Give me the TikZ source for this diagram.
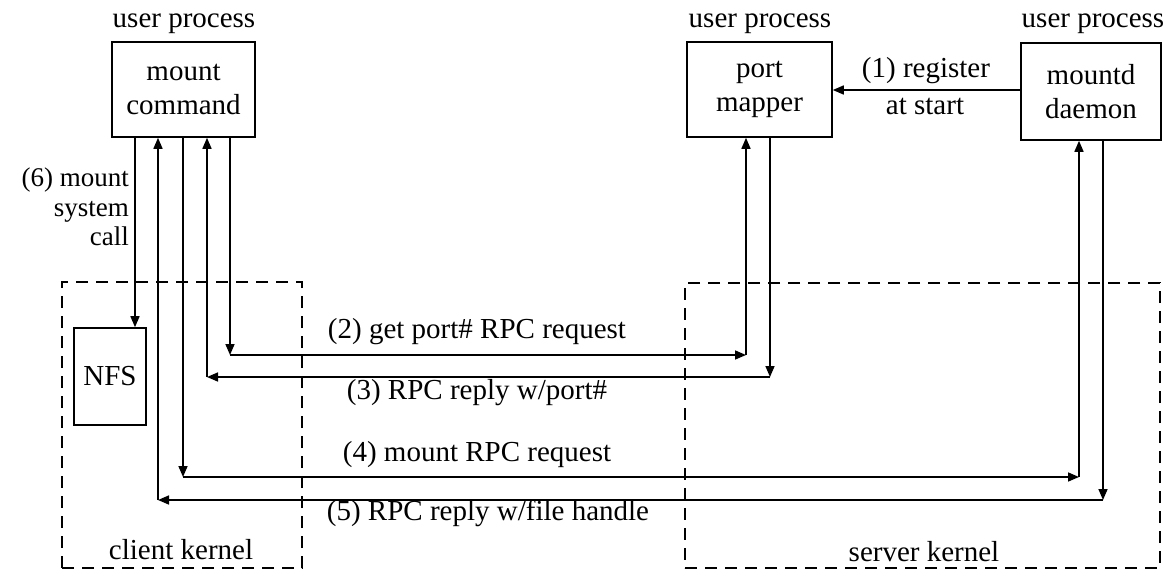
\documentclass[tikz,border=0pt]{standalone}
\usepackage{fontspec}
\setmainfont{Liberation Serif}
\usetikzlibrary{arrows.meta}
\begin{document}
\begin{tikzpicture}[x=1pt,y=-1pt,
  txt/.style={font=\fontsize{29}{34}\selectfont,inner sep=0pt},
  box/.style={txt,draw,line width=1.6pt,align=center},
  kern/.style={draw,line width=2.2pt,dash pattern=on 12pt off 8pt,inner sep=0pt},
  ln/.style={line width=1.6pt},
  arr/.style={ln,-{Triangle[length=11pt,width=9pt]}}]
\useasboundingbox (0,0) rectangle (1163,571);
% kernels
\node[kern,minimum width=240pt,minimum height=286pt] (ck) at (182,425) {};
\node[kern,minimum width=475pt,minimum height=285pt] (sk) at (922.5,425.5) {};
\node[txt] (ckl) at (181,550) {client kernel};
\node[txt] (skl) at (924,552) {server kernel};
% user boxes
\node[box,minimum width=143pt,minimum height=95pt] (mc) at (183.5,89.5) {mount\\command};
\node[box,minimum width=145pt,minimum height=95pt] (pm) at (759.5,89.5) {port\\mapper};
\node[box,minimum width=140pt,minimum height=97pt] (md) at (1091,91.5) {mountd\\daemon};
\node[txt] (u1) at (184,24) {user process};
\node[txt] (u2) at (760,24) {user process};
\node[txt] (u3) at (1093,24) {user process};
\node[box,minimum width=72pt,minimum height=97pt] (nfs) at (110,376.5) {NFS};
% (1)
\draw[arr] (md.west |- 0,90) -- (pm.east |- 0,90);
\node[txt] (l1a) at (926,71) {(1) register};
\node[txt] (l1b) at (925,106) {at start};
% (6)
\coordinate (c6) at (135,0);
\draw[arr] (mc.south -| c6) -- (nfs.north -| c6);
\node[txt,align=right,anchor=east,font=\fontsize{27}{29.5}\selectfont] (l6) at (129,207) {(6) mount\\system\\call};
% (2)
\coordinate (c2a) at (230,355);
\coordinate (c2b) at (746,355);
\draw[arr] (mc.south -| c2a) -- (c2a);
\draw[arr] (c2a) -- (c2b);
\draw[arr] (c2b) -- (pm.south -| c2b);
\node[txt] (l2) at (477,332) {(2) get port\# RPC request};
% (3)
\coordinate (c3a) at (770,377);
\coordinate (c3b) at (207,377);
\draw[arr] (pm.south -| c3a) -- (c3a);
\draw[arr] (c3a) -- (c3b);
\draw[arr] (c3b) -- (mc.south -| c3b);
\node[txt] (l3) at (477,393) {(3) RPC reply w/port\#};
% (4)
\coordinate (c4a) at (183,477);
\coordinate (c4b) at (1079,477);
\draw[arr] (mc.south -| c4a) -- (c4a);
\draw[arr] (c4a) -- (c4b);
\draw[arr] (c4b) -- (md.south -| c4b);
\node[txt] (l4) at (477,455) {(4) mount RPC request};
% (5)
\coordinate (c5a) at (1103,500);
\coordinate (c5b) at (158,500);
\draw[arr] (md.south -| c5a) -- (c5a);
\draw[arr] (c5a) -- (c5b);
\draw[arr] (c5b) -- (mc.south -| c5b);
\node[txt] (l5) at (488,513) {(5) RPC reply w/file handle};
\end{tikzpicture}
\end{document}
